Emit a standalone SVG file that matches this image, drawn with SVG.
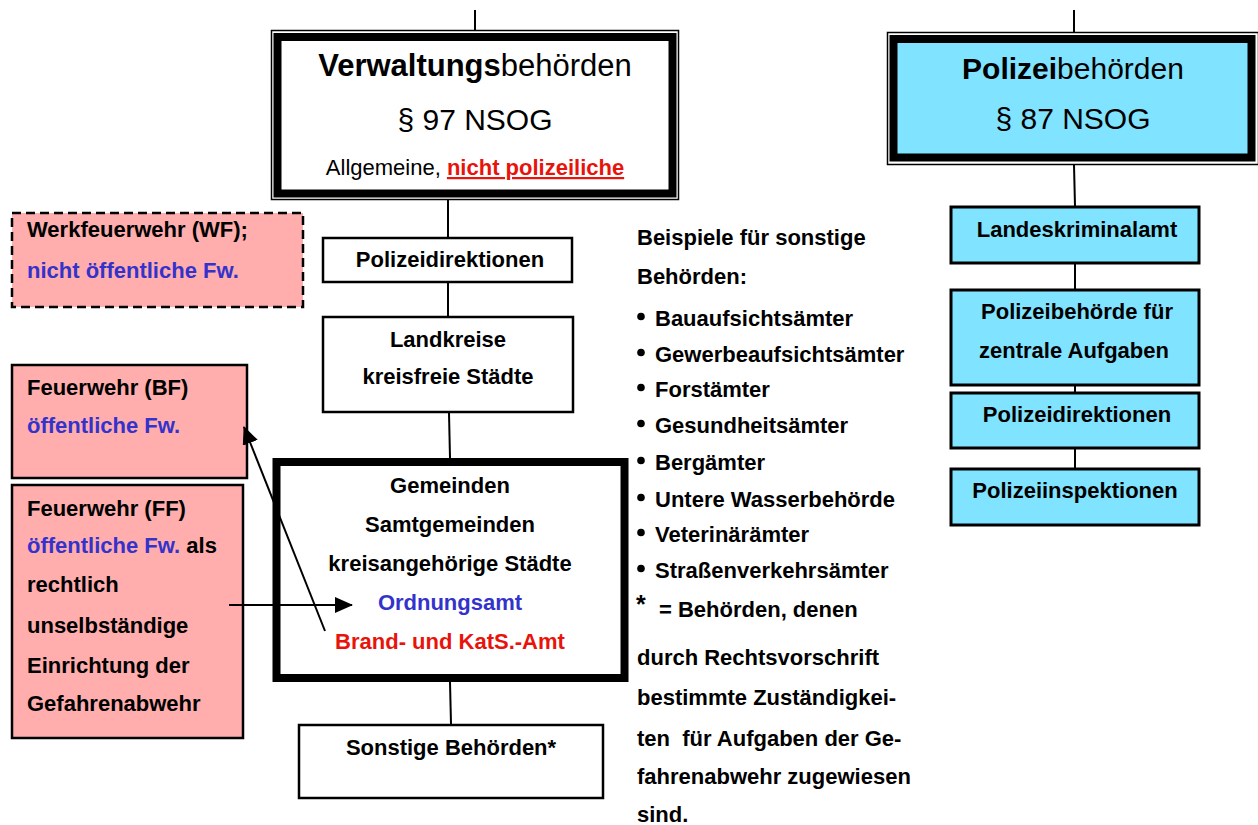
<svg xmlns="http://www.w3.org/2000/svg" width="1258" height="825" viewBox="0 0 1258 825">
<style>
text{font-family:"Liberation Sans",Arial,sans-serif;fill:#000}
.b{font-weight:bold;font-size:22px}
.c{text-anchor:middle}
.blue{fill:#3333CC}
.red{fill:#E8140C}
.box{fill:#fff;stroke:#000;stroke-width:2.5}
.pol{fill:#80E3FF;stroke:#000;stroke-width:3}
.pink{fill:#FFADAD;stroke:#000;stroke-width:2.5}
.ln{stroke:#000;stroke-width:2;fill:none}
</style>
<defs>
<marker id="ah" markerWidth="18" markerHeight="16" refX="17" refY="8" orient="auto" markerUnits="userSpaceOnUse" viewBox="0 0 18 16">
<path d="M0,0 L18,8 L0,16 z" fill="#000"/>
</marker>
</defs>
<rect width="1258" height="825" fill="#fff"/>

<g id="verwaltung">
<rect x="271.5" y="30.5" width="407" height="169" fill="#fff" stroke="#000" stroke-width="1.5"/>
<rect x="277.5" y="37" width="395" height="156.5" fill="#fff" stroke="#000" stroke-width="8"/>
<text x="475" y="76" class="c" font-size="31"><tspan font-weight="bold">Verwaltungs</tspan>behörden</text>
<text x="475" y="130" class="c" font-size="30">§ 97 NSOG</text>
<text x="475" y="175" class="c" font-size="22">Allgemeine, <tspan class="red" font-weight="bold" text-decoration="underline">nicht polizeiliche</tspan></text>
</g>

<g id="polizei">
<rect x="887.5" y="32.5" width="371" height="132" fill="#fff" stroke="#000" stroke-width="1.5"/>
<rect x="893.5" y="39" width="358" height="118.5" fill="#80E3FF" stroke="#000" stroke-width="8"/>
<text x="1073" y="79" class="c" font-size="30"><tspan font-weight="bold">Polizei</tspan>behörden</text>
<text x="1073" y="129" class="c" font-size="30">§ 87 NSOG</text>
</g>

<g id="werkfeuerwehr">
<rect x="12" y="213" width="291" height="94" class="pink" stroke-dasharray="9,5"/>
<text x="27" y="237" class="b">Werkfeuerwehr (WF);</text>
<text x="27" y="278" class="b blue">nicht öffentliche Fw.</text>
</g>

<g id="polizeidirektionen-l">
<rect x="323" y="238" width="249" height="44" class="box"/>
<text x="450" y="267" class="b c">Polizeidirektionen</text>
</g>

<g id="landkreise">
<rect x="323" y="317" width="250" height="95" class="box"/>
<text x="448" y="347" class="b c">Landkreise</text>
<text x="448" y="384" class="b c">kreisfreie Städte</text>
</g>

<g id="feuerwehr-bf">
<rect x="12" y="365" width="235" height="113" class="pink"/>
<text x="27" y="395" class="b">Feuerwehr (BF)</text>
<text x="27" y="433" class="b blue">öffentliche Fw.</text>
</g>

<g id="feuerwehr-ff">
<rect x="12" y="485" width="231" height="253" class="pink"/>
<text x="27" y="516" class="b">Feuerwehr (FF)</text>
<text x="27" y="553" class="b"><tspan class="blue">öffentliche Fw.</tspan> als</text>
<text x="27" y="592" class="b">rechtlich</text>
<text x="27" y="633" class="b">unselbständige</text>
<text x="27" y="673" class="b">Einrichtung der</text>
<text x="27" y="711" class="b">Gefahrenabwehr</text>
</g>

<g id="gemeinden">
<rect x="276.5" y="462" width="348" height="216" fill="#fff" stroke="#000" stroke-width="8"/>
<text x="450" y="493" class="b c">Gemeinden</text>
<text x="450" y="532" class="b c">Samtgemeinden</text>
<text x="450" y="571" class="b c">kreisangehörige Städte</text>
<text x="450" y="610" class="b c blue">Ordnungsamt</text>
<text x="450" y="649" class="b c red">Brand- und KatS.-Amt</text>
</g>

<g id="sonstige">
<rect x="299" y="725" width="304" height="73" class="box"/>
<text x="451" y="755" class="b c">Sonstige Behörden*</text>
</g>

<g id="beispiele">
<text x="637" y="245" class="b">Beispiele für sonstige</text>
<text x="637" y="284" class="b">Behörden:</text>
<g fill="#000">
<circle cx="641" cy="316.5" r="3.8"/>
<circle cx="641" cy="352.5" r="3.8"/>
<circle cx="641" cy="387.5" r="3.8"/>
<circle cx="641" cy="423.5" r="3.8"/>
<circle cx="641" cy="460.5" r="3.8"/>
<circle cx="641" cy="497.5" r="3.8"/>
<circle cx="641" cy="532.5" r="3.8"/>
<circle cx="641" cy="568.5" r="3.8"/>
</g>
<text x="655" y="326" class="b">Bauaufsichtsämter</text>
<text x="655" y="362" class="b">Gewerbeaufsichtsämter</text>
<text x="655" y="397" class="b">Forstämter</text>
<text x="655" y="433" class="b">Gesundheitsämter</text>
<text x="655" y="470" class="b">Bergämter</text>
<text x="655" y="507" class="b">Untere Wasserbehörde</text>
<text x="655" y="542" class="b">Veterinärämter</text>
<text x="655" y="578" class="b">Straßenverkehrsämter</text>
<text x="636" y="613" font-size="25" font-weight="bold">*</text>
<text x="659" y="617" class="b">= Behörden, denen</text>
<text x="637" y="665" class="b">durch Rechtsvorschrift</text>
<text x="637" y="705" class="b">bestimmte Zuständigkei-</text>
<text x="637" y="746" class="b" xml:space="preserve">ten  für Aufgaben der Ge-</text>
<text x="637" y="784" class="b">fahrenabwehr zugewiesen</text>
<text x="637" y="822" class="b">sind.</text>
</g>

<g id="landeskriminalamt">
<rect x="951" y="207" width="248" height="56" class="pol"/>
<text x="1077" y="237" class="b c">Landeskriminalamt</text>
</g>
<g id="zentrale-aufgaben">
<rect x="951" y="290" width="248" height="95" class="pol"/>
<text x="1077" y="319" class="b c">Polizeibehörde für</text>
<text x="1074" y="358" class="b c">zentrale Aufgaben</text>
</g>
<g id="polizeidirektionen-r">
<rect x="951" y="393" width="248" height="55" class="pol"/>
<text x="1077" y="422" class="b c">Polizeidirektionen</text>
</g>
<g id="polizeiinspektionen">
<rect x="951" y="469" width="248" height="56" class="pol"/>
<text x="1075" y="498" class="b c">Polizeiinspektionen</text>
</g>

<g id="connectors">
<line class="ln" x1="475" y1="10" x2="475" y2="30"/>
<line class="ln" x1="1074" y1="10" x2="1074" y2="32"/>
<line class="ln" x1="448" y1="200" x2="448" y2="237"/>
<line class="ln" x1="448" y1="283" x2="448" y2="316"/>
<line class="ln" x1="449" y1="413" x2="450" y2="458"/>
<line class="ln" x1="450" y1="682" x2="451" y2="724"/>
<line class="ln" x1="1074" y1="165" x2="1075" y2="206"/>
<line class="ln" x1="1075" y1="264" x2="1075" y2="289"/>
<line class="ln" x1="1075" y1="386" x2="1075" y2="392"/>
<line class="ln" x1="1075" y1="449" x2="1075" y2="468"/>
<line class="ln" x1="229" y1="605" x2="352" y2="605" marker-end="url(#ah)"/>
<line class="ln" x1="325" y1="631" x2="244" y2="427" marker-end="url(#ah)"/>
</g>
</svg>
